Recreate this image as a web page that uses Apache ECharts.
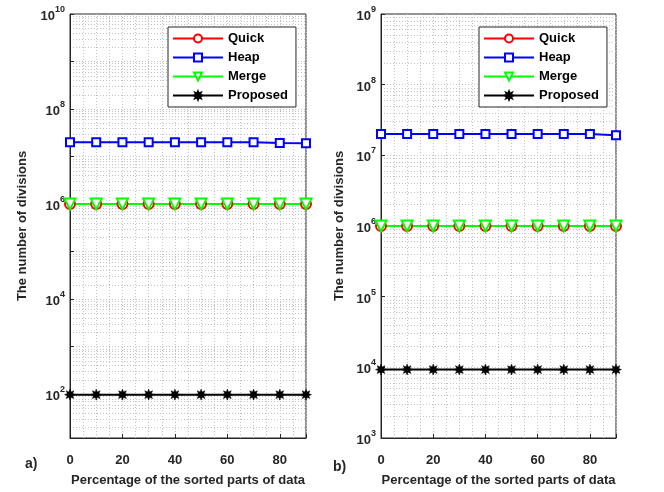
<!DOCTYPE html>
<html><head><meta charset="utf-8">
<script src="https://cdn.jsdelivr.net/npm/echarts@6/dist/echarts.min.js"></script>
<style>html,body{margin:0;padding:0;background:#fff}#c{width:664px;height:492px}</style>
</head><body><div id="c"></div>
<script>
// ---------- data ----------
const xValues = [0, 10, 20, 30, 40, 50, 60, 70, 80, 90];
const seriesNames = ['Quick', 'Heap', 'Merge', 'Proposed'];
// panel a)
const quickA    = [1e6, 1e6, 1e6, 1e6, 1e6, 1e6, 1e6, 1e6, 1e6, 1e6];
const heapA     = [2.0e7, 2.0e7, 2.0e7, 2.0e7, 2.0e7, 2.0e7, 2.0e7, 2.0e7, 1.93e7, 1.9e7];
const mergeA    = [1e6, 1e6, 1e6, 1e6, 1e6, 1e6, 1e6, 1e6, 1e6, 1e6];
const proposedA = [98, 98, 98, 98, 98, 98, 98, 98, 98, 98];
// panel b)
const quickB    = [1e6, 1e6, 1e6, 1e6, 1e6, 1e6, 1e6, 1e6, 1e6, 1e6];
const heapB     = [2.0e7, 2.0e7, 2.0e7, 2.0e7, 2.0e7, 2.0e7, 2.0e7, 2.0e7, 2.0e7, 1.92e7];
const mergeB    = [1e6, 1e6, 1e6, 1e6, 1e6, 1e6, 1e6, 1e6, 1e6, 1e6];
const proposedB = [9.3e3, 9.3e3, 9.3e3, 9.3e3, 9.3e3, 9.3e3, 9.3e3, 9.3e3, 9.3e3, 9.3e3];
const xTickLabels = ['0', '20', '40', '60', '80'];
const yRangeA = [12, 1e10];
const yRangeB = [1e3, 1e9];
const xAxisTitle = 'Percentage of the sorted parts of data';
const yAxisTitle = 'The number of divisions';
const panelLabels = ['a)', 'b)'];

// ---------- helpers ----------
const FONT = 'Liberation Sans, Arial, sans-serif';
const TXT = '#262626';
function pairs(arr) { return xValues.map((x, i) => [x, arr[i]]); }
function starPath() {
  const pts = [];
  for (let i = 0; i < 16; i++) {
    const a = Math.PI * i / 8 - Math.PI / 2;
    const r = i % 2 === 0 ? 10 : 5.2;
    pts.push((10 + r * Math.cos(a)).toFixed(2) + ',' + (10 + r * Math.sin(a)).toFixed(2));
  }
  return 'path://M' + pts.join('L') + 'Z';
}
const STAR = starPath();
function gridValues(lo, hi) {
  const out = [];
  for (let e = 0; e <= 10; e++) for (let k = 1; k <= 9; k++) {
    const v = k * Math.pow(10, e);
    if (v > lo * 1.0001 && v < hi * 0.9999) out.push(v);
  }
  return out;
}
function yFormatter(evenOnly) {
  return function (v) {
    const e = Math.round(Math.log10(v));
    if (Math.abs(v - Math.pow(10, e)) / v > 1e-6) return '';
    if (evenOnly && e % 2 !== 0) return '';
    return '{b|10}{s|' + e + '}';
  };
}
const yRich = {
  b: { fontSize: 13, fontWeight: 'bold', color: TXT, fontFamily: FONT, verticalAlign: 'bottom', lineHeight: 18 },
  s: { fontSize: 9, fontWeight: 'bold', color: TXT, fontFamily: FONT, verticalAlign: 'top', lineHeight: 18 }
};
const dotted = { color: '#c4c4c4', type: [1, 2], width: 1 };

function makeX(idx) {
  return {
    type: 'value', gridIndex: idx, min: 0, max: 90, interval: 20,
    name: xAxisTitle, nameLocation: 'middle', nameGap: 36,
    nameTextStyle: { fontSize: 13, fontWeight: 'bold', color: TXT, fontFamily: FONT },
    axisLine: { onZero: false, lineStyle: { color: TXT, width: 1 } },
    axisTick: { inside: true, length: 4, lineStyle: { color: TXT } },
    axisLabel: { fontSize: 13, fontWeight: 'bold', color: TXT, fontFamily: FONT, margin: 16,
      formatter: v => (xTickLabels.indexOf(String(v)) >= 0 ? String(v) : '') },
    splitLine: { show: true, lineStyle: dotted },
    minorTick: { show: false, splitNumber: 4 },
    minorSplitLine: { show: true, lineStyle: dotted }
  };
}
function makeY(idx, range, evenOnly, gap, interval) {
  const ax = {
    type: 'log', logBase: 10, gridIndex: idx, min: range[0], max: range[1],
    name: yAxisTitle, nameLocation: 'middle', nameGap: gap,
    nameTextStyle: { fontSize: 13, fontWeight: 'bold', color: TXT, fontFamily: FONT },
    axisLine: { lineStyle: { color: TXT, width: 1 } },
    axisTick: { inside: true, length: 4, lineStyle: { color: TXT } },
    axisLabel: { formatter: yFormatter(evenOnly), rich: yRich, margin: 5 },
    splitLine: { show: false }
  };
  if (interval) ax.interval = interval;
  return ax;
}
function lineSeries(name, data, xi, color, symbol, size, extra) {
  return Object.assign({
    name: name, type: 'line', xAxisIndex: xi, yAxisIndex: xi, data: pairs(data),
    symbol: symbol, symbolSize: size, showSymbol: true,
    lineStyle: { color: color, width: 2 },
    itemStyle: { color: color, borderColor: color, borderWidth: 1.5 },
    emphasis: { disabled: true }, animation: false
  }, extra || {});
}
function panelSeries(xi, q, h, m, p, range) {
  return [
    { name: 'grid' + xi, type: 'line', xAxisIndex: xi, yAxisIndex: xi, data: [], silent: true, z: 0,
      markLine: { silent: true, z: 0, symbol: ['none', 'none'], label: { show: false },
        lineStyle: dotted, animation: false, emphasis: { disabled: true },
        data: gridValues(range[0], range[1]).map(v => ({ yAxis: v })) } },
    lineSeries('Quick', q, xi, '#ff0000', 'emptyCircle', 10),
    lineSeries('Heap', h, xi, '#0000ff', 'emptyRect', 8),
    lineSeries('Merge', m, xi, '#00ff00', 'emptyTriangle', 11, { symbolRotate: 180 }),
    lineSeries('Proposed', p, xi, '#000000', STAR, 11, { itemStyle: { color: '#000', borderColor: '#000', borderWidth: 0.5 } })
  ];
}
function makeLegend(left) {
  return {
    data: seriesNames, orient: 'vertical', left: left, top: 27, z: 10,
    itemWidth: 50, itemHeight: 10, itemGap: 6,
    padding: [5, 8, 5, 4], borderColor: '#262626', borderWidth: 1, backgroundColor: '#fff',
    textStyle: { fontSize: 13, fontWeight: 'bold', color: '#000', fontFamily: FONT },
    selectedMode: false
  };
}

const chart = echarts.init(document.getElementById('c'), null, { renderer: 'canvas' });
chart.setOption({
  animation: false,
  backgroundColor: '#fff',
  grid: [
    { left: 70, top: 14, width: 236, height: 428, show: true, borderColor: TXT, borderWidth: 1, backgroundColor: 'transparent' },
    { left: 381, top: 14, width: 235, height: 429, show: true, borderColor: TXT, borderWidth: 1, backgroundColor: 'transparent' }
  ],
  xAxis: [makeX(0), makeX(1)],
  yAxis: [makeY(0, yRangeA, true, 41, null), makeY(1, yRangeB, false, 35, 1)],
  legend: [makeLegend(168), makeLegend(479)],
  graphic: [
    { type: 'text', left: 25, top: 457, style: { text: panelLabels[0], fontSize: 14, fontWeight: 'bold', fill: TXT, fontFamily: FONT } },
    { type: 'text', left: 333, top: 460, style: { text: panelLabels[1], fontSize: 14, fontWeight: 'bold', fill: TXT, fontFamily: FONT } }
  ],
  series: panelSeries(0, quickA, heapA, mergeA, proposedA, yRangeA)
    .concat(panelSeries(1, quickB, heapB, mergeB, proposedB, yRangeB))
});
</script>
</body></html>
